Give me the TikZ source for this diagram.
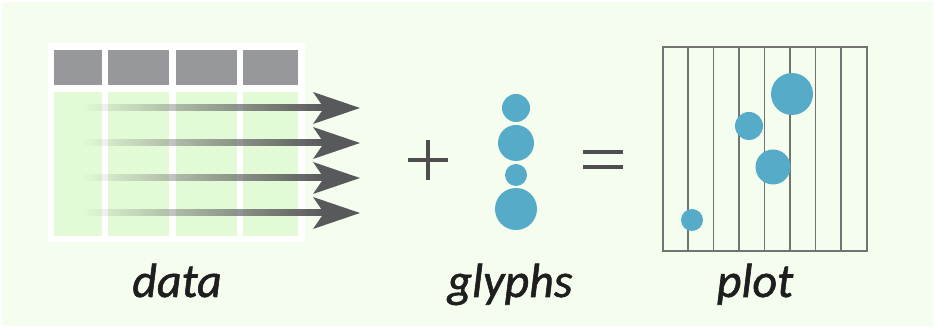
\documentclass[tikz,border=0pt]{standalone}
\usepackage{fontspec}
\setmainfont{Carlito}
\newfontfamily\lblfont{Carlito Italic}[FakeBold=1.2]
\usetikzlibrary{fadings,calc}
\tikzfading[name=fadein, left color=transparent!100, right color=transparent!0]
\definecolor{bg}{HTML}{F4FDEE}
\definecolor{hdr}{HTML}{97989C}
\definecolor{cell}{HTML}{E2FAD5}
\definecolor{arr}{HTML}{58595B}
\definecolor{sym}{HTML}{4E4E50}
\definecolor{dot}{HTML}{56ACC8}
\definecolor{grid}{HTML}{737373}
\definecolor{ink}{HTML}{1E1E1E}
\tikzset{
  hdrcell/.style={fill=hdr},
  bodycell/.style={fill=cell},
  glyph/.style={circle, fill=dot, inner sep=0pt, minimum size=#1},
  lbl/.style={anchor=base, text=ink, font=\fontsize{48}{48}\lblfont},
  symbar/.style={line width=4pt, sym},
  gridline/.style={line width=1.4pt, grid},
}
\begin{document}
\begin{tikzpicture}[x=1pt, y=-1pt]
\useasboundingbox (0,0) rectangle (935,328);
\fill[white] (0,0) rectangle (935,328);
\fill[bg] (2,2) rectangle (933,326);
% table
\fill[white] (48,43) rectangle (305,242);
\foreach \a/\b in {54/102, 108/169, 176/237, 243/298}{
  \fill[hdrcell] (\a,50) rectangle (\b,85);
  \fill[bodycell] (\a,92) rectangle (\b,236);
}
% arrows
\foreach \i/\y in {1/108, 2/143, 3/178, 4/213}{
  \coordinate (s\i) at (83,\y);
  \coordinate (e\i) at (324,\y);
  \fill[arr, path fading=fadein] ($(s\i)+(0,-3.5)$) rectangle ($(e\i)+(0,3.5)$);
  \fill[arr, shift={(e\i)}] (-11,-16) -- (36,0) -- (-11,16) -- (0,0) -- cycle;
}
% plus
\node[inner sep=0pt, minimum size=0pt] (plus) at (428,160) {};
\draw[symbar] ($(plus)+(-20,0)$) -- ($(plus)+(20,0)$);
\draw[symbar] ($(plus)+(0,-20)$) -- ($(plus)+(0,20)$);
% glyphs
\node[glyph=28pt] (g1) at (516,108) {};
\node[glyph=36pt] (g2) at (516,143) {};
\node[glyph=22pt] (g3) at (516,175) {};
\node[glyph=42pt] (g4) at (516,209) {};
% equals
\node[inner sep=0pt, minimum size=0pt] (eq) at (603,159.5) {};
\draw[symbar] ($(eq)+(-20,-7.5)$) -- ($(eq)+(20,-7.5)$);
\draw[symbar] ($(eq)+(-20,7.5)$) -- ($(eq)+(20,7.5)$);
% plot
\node[draw=grid, line width=1.4pt, inner sep=0pt, minimum width=204pt, minimum height=204pt] (plot) at (765,149) {};
\foreach \k in {1,...,7}{
  \draw[gridline] ($(plot.north west)+(25.5*\k,0)$) -- ($(plot.south west)+(25.5*\k,0)$);
}
\node[glyph=42pt] (p1) at (792,94) {};
\node[glyph=28pt] (p2) at (749,126) {};
\node[glyph=35pt] (p3) at (773,167) {};
\node[glyph=22pt] (p4) at (692,220) {};
% labels
\node[lbl] (ldata) at (177,297) {data};
\node[lbl] (lglyphs) at (510,297) {glyphs};
\node[lbl] (lplot) at (755,297) {plot};
\end{tikzpicture}
\end{document}
